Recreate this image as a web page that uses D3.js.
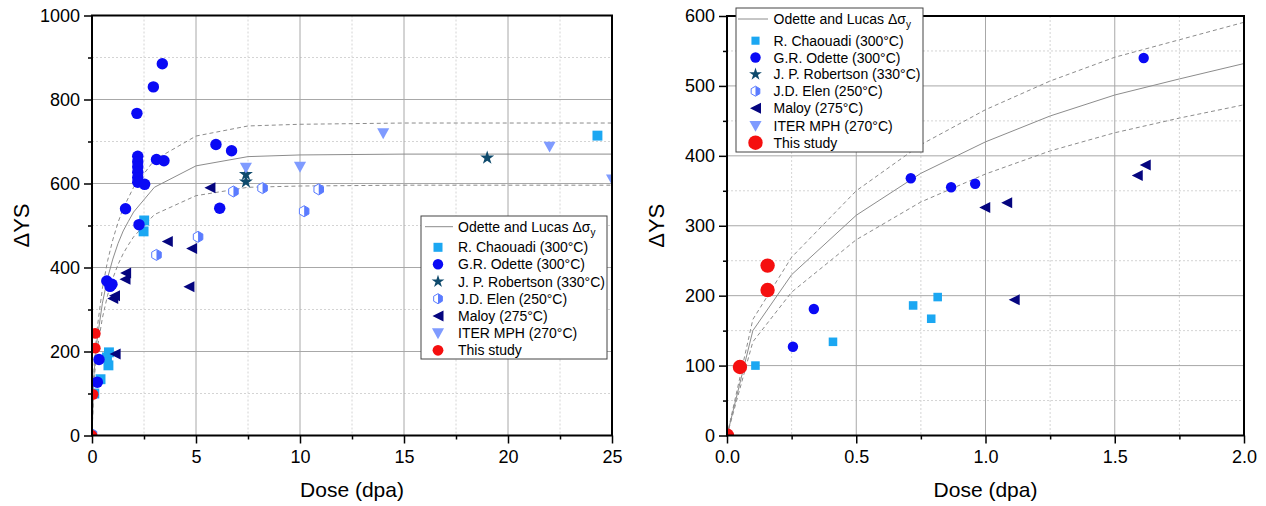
<!DOCTYPE html>
<html>
<head>
<meta charset="utf-8">
<script src="https://cdn.jsdelivr.net/npm/d3@7"></script>
<style>
  body { margin: 0; background: #fff; }
  svg { display: block; }
  text { font-family: "Liberation Sans", Arial, sans-serif; fill: #000; }
</style>
</head>
<body>
<svg id="chart" width="1266" height="506"></svg>
<script>
// ---- data (dose in dpa, delta YS in MPa) ----
const chaouadiDose = [0.11, 0.41, 0.72, 0.79, 0.815, 2.48, 2.51, 24.3];
const chaouadiYS   = [100, 134, 186, 167, 198, 486, 512, 714];

const odetteDose = [0.255, 0.336, 0.711, 0.867, 0.96, 1.612, 2.26, 2.2, 2.2, 2.2, 2.2, 2.2, 2.2, 2.53, 2.16, 2.95, 3.38, 3.1, 3.46, 5.96, 6.71, 6.14];
const odetteYS   = [127, 181, 368, 355, 360, 540, 502, 665, 652, 640, 627, 614, 603, 598, 767, 830, 885, 657, 654, 693, 678, 541];

const robertsonDose = [7.4, 7.4, 19.0];
const robertsonYS   = [622, 604, 661];

const elenDose = [0, 3.1, 5.1, 6.8, 8.2, 10.2, 10.9];
const elenYS   = [3, 430, 473, 581, 589, 534, 586];

const maloyDose = [0.997, 1.082, 1.111, 1.587, 1.618, 3.62, 4.66, 4.79, 5.67];
const maloyYS   = [326, 333, 194, 372, 387, 462, 354, 445, 590];

const iterDose = [7.4, 10.0, 14.0, 22.0, 25.0];
const iterYS   = [638, 640, 720, 688, 610];

const studyDose = [0, 0.05, 0.157, 0.157];
const studyYS   = [0, 98, 208, 243];

// Odette and Lucas curve with its upper / lower bands
const curveDose  = [0, 0.1, 0.25, 0.5, 0.75, 1, 1.25, 1.5, 1.75, 2, 3, 5, 7.5, 10, 15, 20, 25];
const curveMid   = [0, 150, 230, 315, 375, 420, 457, 487, 510, 532, 591, 642, 664, 668, 670, 670, 670];
const curveUpper = [0, 166, 255, 350, 416, 466, 507, 541, 566, 591, 656, 713, 737, 741, 744, 744, 744];
const curveLower = [0, 134, 205, 280, 334, 374, 407, 433, 454, 473, 526, 571, 591, 594, 596, 596, 596];

const legendLabels = ["R. Chaouadi (300°C)", "G.R. Odette (300°C)", "J. P. Robertson (330°C)",
  "J.D. Elen (250°C)", "Maloy (275°C)", "ITER MPH (270°C)", "This study"];

const svg = d3.select("#chart");
const zip = (a, b) => a.map((v, i) => [v, b[i]]);

const series = [
  { pts: zip(chaouadiDose, chaouadiYS), shape: "square", color: "#1ba7f2" },
  { pts: zip(odetteDose, odetteYS), shape: "circle", color: "#0a0af5" },
  { pts: zip(robertsonDose, robertsonYS), shape: "star", color: "#0e4a6c" },
  { pts: zip(elenDose, elenYS), shape: "hex", color: "#5a7bff" },
  { pts: zip(maloyDose, maloyYS), shape: "left", color: "#05057f" },
  { pts: zip(iterDose, iterYS), shape: "down", color: "#7f9bff" },
  { pts: zip(studyDose, studyYS), shape: "big", color: "#f50f0f" }
];

// draw one marker at (cx, cy); s = nominal size
function marker(g, shape, color, cx, cy, s) {
  const t = `translate(${cx},${cy})`;
  if (shape == "square") {
    g.append("rect").attr("x", cx - s * 0.45).attr("y", cy - s * 0.45)
      .attr("width", s * 0.9).attr("height", s * 0.9).attr("fill", color);
  } else if (shape == "circle") {
    g.append("circle").attr("cx", cx).attr("cy", cy).attr("r", s * 0.52).attr("fill", color);
  } else if (shape == "big") {
    g.append("circle").attr("cx", cx).attr("cy", cy).attr("r", s * 0.6).attr("fill", color);
  } else if (shape == "star") {
    g.append("path").attr("transform", t)
      .attr("d", d3.symbol(d3.symbolStar, s * s * 0.42)()).attr("fill", color);
  } else if (shape == "left") {
    const h = s * 0.5;
    g.append("path").attr("transform", t)
      .attr("d", `M${-h},0L${h},${-h}L${h},${h}Z`).attr("fill", color);
  } else if (shape == "down") {
    const h = s * 0.55;
    g.append("path").attr("transform", t)
      .attr("d", `M${-h},${-h * 0.8}L${h},${-h * 0.8}L0,${h}Z`).attr("fill", color);
  } else if (shape == "hex") {
    const r = s * 0.5;
    const pts = d3.range(6).map(i => {
      const a = Math.PI / 6 + i * Math.PI / 3;
      return [r * Math.cos(a), r * Math.sin(a)];
    });
    g.append("path").attr("transform", t)
      .attr("d", "M" + pts.join("L") + "Z")
      .attr("fill", "#fff").attr("stroke", color).attr("stroke-width", 1);
    // right half filled
    const right = [[0, -r], pts[5], pts[0], [0, r]];
    g.append("path").attr("transform", t)
      .attr("d", "M" + right.join("L") + "Z").attr("fill", color);
  }
}

function drawPanel(p) {
  const x = d3.scaleLinear().domain([0, p.xMax]).range([p.left, p.right]);
  const y = d3.scaleLinear().domain([0, p.yMax]).range([p.bottom, p.top]);
  const g = svg.append("g");

  svg.append("clipPath").attr("id", "clip" + p.id)
    .append("rect").attr("x", p.left).attr("y", p.top)
    .attr("width", p.right - p.left).attr("height", p.bottom - p.top);

  // grid, minor dotted then major solid
  const grid = g.append("g");
  grid.selectAll(".mx").data(p.xMinor).join("line")
    .attr("x1", d => x(d)).attr("x2", d => x(d)).attr("y1", p.top).attr("y2", p.bottom)
    .attr("stroke", "#d4d4d4").attr("stroke-dasharray", "2,2");
  grid.selectAll(".my").data(p.yMinor).join("line")
    .attr("y1", d => y(d)).attr("y2", d => y(d)).attr("x1", p.left).attr("x2", p.right)
    .attr("stroke", "#d4d4d4").attr("stroke-dasharray", "2,2");
  grid.selectAll(".Mx").data(p.xMajor).join("line")
    .attr("x1", d => x(d)).attr("x2", d => x(d)).attr("y1", p.top).attr("y2", p.bottom)
    .attr("stroke", "#a8a8a8");
  grid.selectAll(".My").data(p.yMajor).join("line")
    .attr("y1", d => y(d)).attr("y2", d => y(d)).attr("x1", p.left).attr("x2", p.right)
    .attr("stroke", "#a8a8a8");

  // curves
  const clipped = g.append("g").attr("clip-path", `url(#clip${p.id})`);
  const line = d3.line().x(d => x(d[0])).y(d => y(d[1]));
  [[curveUpper, "4,3"], [curveLower, "4,3"], [curveMid, null]].forEach(([vals, dash]) => {
    clipped.append("path").datum(zip(curveDose, vals))
      .attr("d", line).attr("fill", "none").attr("stroke", "#8c8c8c")
      .attr("stroke-width", 1).attr("stroke-dasharray", dash);
  });

  // points
  series.forEach(s => {
    s.pts.forEach(d => marker(clipped, s.shape, s.color, x(d[0]), y(d[1]), p.msize[s.shape]));
  });

  // axes
  g.append("g").attr("transform", `translate(0,${p.bottom})`)
    .call(d3.axisBottom(x).tickValues(p.xMajor).tickSize(8).tickSizeOuter(0)
      .tickPadding(7).tickFormat(p.xFmt));
  g.append("g").attr("transform", `translate(0,${p.bottom})`)
    .call(d3.axisBottom(x).tickValues(p.xMinor).tickSize(4).tickSizeOuter(0).tickFormat(""));
  g.append("g").attr("transform", `translate(${p.left},0)`)
    .call(d3.axisLeft(y).tickValues(p.yMajor).tickSize(8).tickSizeOuter(0)
      .tickPadding(4).tickFormat(d3.format("d")));
  g.append("g").attr("transform", `translate(${p.left},0)`)
    .call(d3.axisLeft(y).tickValues(p.yMinor).tickSize(4).tickSizeOuter(0).tickFormat(""));
  g.selectAll(".domain").remove();
  g.selectAll(".tick line").attr("stroke", "#000").attr("stroke-width", 1.5);
  g.selectAll(".tick text").style("font-size", "18px")
    .style("font-family", '"Liberation Sans", Arial, sans-serif');

  g.append("rect").attr("x", p.left).attr("y", p.top)
    .attr("width", p.right - p.left).attr("height", p.bottom - p.top)
    .attr("fill", "none").attr("stroke", "#000").attr("stroke-width", 2);

  // axis titles
  g.append("text").attr("x", (p.left + p.right) / 2).attr("y", 497)
    .attr("text-anchor", "middle").style("font-size", "21px").text("Dose (dpa)");
  g.append("text")
    .attr("transform", `translate(${p.left - 63},${(p.top + p.bottom) / 2}) rotate(-90)`)
    .attr("text-anchor", "middle").style("font-size", "22px").text("ΔYS");

  // legend
  const L = p.legend;
  const lg = g.append("g");
  lg.append("rect").attr("x", L.x).attr("y", L.y).attr("width", L.w).attr("height", L.h)
    .attr("fill", "#fff").attr("stroke", "#444").attr("stroke-width", 1);
  lg.append("line").attr("x1", L.lineX0).attr("x2", L.lineX1)
    .attr("y1", L.rows[0]).attr("y2", L.rows[0]).attr("stroke", "#8c8c8c");
  const t0 = lg.append("text").attr("x", L.textX).attr("y", L.rows[0] + 5).style("font-size", "14px");
  t0.append("tspan").text("Odette and Lucas Δσ");
  t0.append("tspan").attr("dy", 4).style("font-size", "10px").text("y");
  series.forEach((s, i) => {
    const cy = L.rows[i + 1];
    marker(lg, s.shape, s.color, L.markX, cy, L.msize[s.shape]);
    lg.append("text").attr("x", L.textX).attr("y", cy + 5).style("font-size", "14px")
      .text(legendLabels[i]);
  });
}

drawPanel({
  id: "L", left: 92, right: 612, top: 15.5, bottom: 435.5, xMax: 25, yMax: 1000,
  xMajor: [0, 5, 10, 15, 20, 25], xMinor: [2.5, 7.5, 12.5, 17.5, 22.5],
  yMajor: [0, 200, 400, 600, 800, 1000], yMinor: [100, 300, 500, 700, 900],
  xFmt: d3.format("d"),
  msize: { square: 11, circle: 11, star: 12, hex: 11, left: 11, down: 11, big: 9 },
  legend: {
    x: 421, y: 216, w: 186, h: 143, lineX0: 425, lineX1: 453, markX: 438, textX: 458,
    rows: [226.7, 247.3, 264.3, 281.5, 298.7, 316, 333.2, 350.3],
    msize: { square: 10, circle: 10, star: 11, hex: 10, left: 11, down: 11, big: 9 }
  }
});

drawPanel({
  id: "R", left: 727, right: 1244, top: 16, bottom: 435.5, xMax: 2, yMax: 600,
  xMajor: [0, 0.5, 1, 1.5, 2], xMinor: [0.25, 0.75, 1.25, 1.75],
  yMajor: [0, 100, 200, 300, 400, 500, 600], yMinor: [50, 150, 250, 350, 450, 550],
  xFmt: d3.format(".1f"),
  msize: { square: 9.5, circle: 10, star: 12, hex: 10, left: 11, down: 11, big: 12 },
  legend: {
    x: 736, y: 8, w: 187, h: 144, lineX0: 738, lineX1: 768, markX: 755.5, textX: 773.5,
    rows: [19, 40.7, 57.5, 74.3, 91.2, 108.3, 125.8, 142.7],
    msize: { square: 9, circle: 10, star: 11, hex: 10, left: 11, down: 11, big: 12 }
  }
});
</script>
</body>
</html>
